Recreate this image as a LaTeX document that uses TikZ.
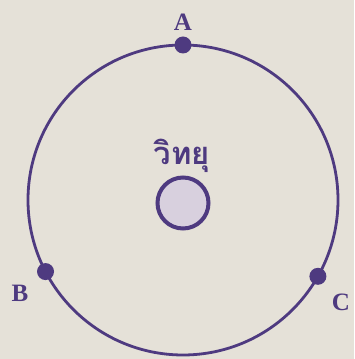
\documentclass[tikz,border=0pt]{standalone}
\usepackage{fontspec}
\setmainfont{Liberation Serif}
\newfontfamily\thaifont[Script=Thai]{Loma}
\usetikzlibrary{calc}
\definecolor{inkpurple}{RGB}{78,58,128}
\definecolor{paper}{RGB}{229,225,216}
\definecolor{radiofill}{RGB}{216,208,222}

\begin{document}
\begin{tikzpicture}[x=1pt, y=1pt,
    dot/.style={circle, fill=inkpurple, inner sep=0pt, minimum size=17pt},
    lbl/.style={font=\fontsize{25}{25}\selectfont\bfseries, text=inkpurple, inner sep=0pt},
    radio/.style={circle, draw=inkpurple, line width=4pt, fill=radiofill,
                  minimum size=51pt, inner sep=0pt}
]
    \fill[paper] (0,0) rectangle (354,359);
    \useasboundingbox (0,0) rectangle (354,359);

    % orbit and radio source
    \coordinate (centre) at (183,159);
    \draw[inkpurple, line width=2.8pt] (centre) circle[radius=155];
    \node[radio] (source) at (183,156) {};
    \node[font=\thaifont\bfseries\fontsize{31}{31}\selectfont, text=inkpurple] (name) at (182,203) {วิทยุ};

    % receivers on the orbit
    \node[dot] (A) at ($(centre)+(90:155)$) {};
    \node[dot] (B) at ($(centre)+(207.5:155)$) {};
    \node[dot] (C) at ($(centre)+(330.5:155)$) {};

    \node[lbl] (labelA) at (183,337) {A};
    \node[lbl] (labelB) at (20,66) {B};
    \node[lbl] (labelC) at (341,57) {C};
\end{tikzpicture}
\end{document}
